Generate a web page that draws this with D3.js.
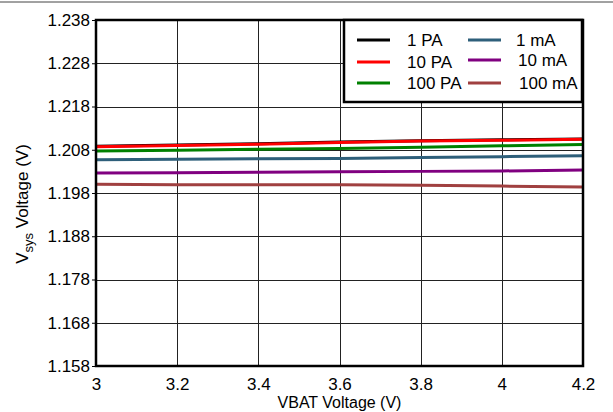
<!DOCTYPE html>
<html><head><meta charset="utf-8">
<script src="https://cdn.jsdelivr.net/npm/d3@7"></script>
<style>body{margin:0;background:#fff;}svg{display:block;font-family:"Liberation Sans",Arial,sans-serif;}</style>
</head><body>
<svg id="c" width="613" height="412"></svg>
<script>
const xValues = [3, 3.2, 3.4, 3.6, 3.8, 4, 4.2];
const xTicks = [3, 3.2, 3.4, 3.6, 3.8, 4, 4.2];
const yTicks = [1.158, 1.168, 1.178, 1.188, 1.198, 1.208, 1.218, 1.228, 1.238];
const seriesNames = ["1 PA", "10 PA", "100 PA", "1 mA", "10 mA", "100 mA"];
const seriesColors = ["#000000", "#ff0000", "#008000", "#2e5f7a", "#800080", "#a04040"];
const s1PA   = [1.2088, 1.2091, 1.2094, 1.2098, 1.2101, 1.2103, 1.2105];
const s10PA  = [1.2087, 1.2090, 1.2093, 1.2097, 1.2100, 1.2102, 1.2104];
const s100PA = [1.2077, 1.2079, 1.2081, 1.2083, 1.2086, 1.2089, 1.2092];
const s1mA   = [1.2057, 1.2058, 1.2059, 1.2060, 1.2062, 1.2064, 1.2066];
const s10mA  = [1.2026, 1.2027, 1.2028, 1.2029, 1.2030, 1.2031, 1.2033];
const s100mA = [1.2000, 1.1999, 1.1999, 1.1999, 1.1998, 1.1996, 1.1994];
const allSeries = [s1PA, s10PA, s100PA, s1mA, s10mA, s100mA];

const FS = 17;
const svg = d3.select("#c");
const W = 613, H = 412;
const m = {l: 96, r: 30, t: 20, b: 46};
const x = d3.scaleLinear().domain([3, 4.2]).range([m.l, W - m.r]);
const y = d3.scaleLinear().domain([1.158, 1.238]).range([H - m.b, m.t]);

// top rule
svg.append("line").attr("x1", 0).attr("x2", W).attr("y1", 2).attr("y2", 2)
  .attr("stroke", "#444").attr("stroke-width", 1);

// grid
svg.append("g").selectAll("line").data(xTicks.slice(1, -1)).join("line")
  .attr("x1", d => Math.round(x(d)) + 0.5).attr("x2", d => Math.round(x(d)) + 0.5)
  .attr("y1", y(1.238)).attr("y2", y(1.158)).attr("stroke", "#222").attr("stroke-width", 1);
svg.append("g").selectAll("line").data(yTicks.slice(1, -1)).join("line")
  .attr("y1", d => Math.round(y(d)) + 0.5).attr("y2", d => Math.round(y(d)) + 0.5)
  .attr("x1", x(3)).attr("x2", x(4.2)).attr("stroke", "#222").attr("stroke-width", 1);

// axes
const yAxis = d3.axisLeft(y).tickValues(yTicks).tickFormat(d3.format(".3f")).tickSize(4).tickPadding(2);
const gy = svg.append("g").attr("transform", `translate(${x(3)},0)`).call(yAxis);
gy.select(".domain").remove();
gy.selectAll("text").attr("font-size", FS).attr("fill", "#000").attr("font-family", "Liberation Sans, Arial, sans-serif");
gy.selectAll("line").attr("stroke", "#000");

const xAxis = d3.axisBottom(x).tickValues(xTicks).tickFormat(d => d3.format("")(d)).tickSize(0).tickPadding(12);
const gx = svg.append("g").attr("transform", `translate(0,${y(1.158)})`).call(xAxis);
gx.select(".domain").remove();
gx.selectAll("text").attr("font-size", FS).attr("fill", "#000").attr("font-family", "Liberation Sans, Arial, sans-serif");

// series lines
const line = d3.line().x((d, i) => x(xValues[i])).y(d => y(d));
const order = [5, 4, 3, 2, 0, 1];
svg.append("g").selectAll("path").data(order).join("path")
  .attr("d", k => line(allSeries[k])).attr("fill", "none")
  .attr("stroke", k => seriesColors[k]).attr("stroke-width", 3);

// border
svg.append("rect").attr("x", x(3)).attr("y", y(1.238)).attr("width", x(4.2) - x(3)).attr("height", y(1.158) - y(1.238))
  .attr("fill", "none").attr("stroke", "#000").attr("stroke-width", 2.5);

// legend
const lg = svg.append("g");
lg.append("rect").attr("x", 344).attr("y", 20).attr("width", 238).attr("height", 82)
  .attr("fill", "#fff").attr("stroke", "#000").attr("stroke-width", 2.5);
const legendPos = [
  {lx: 357, tx: 407, ty: 40}, {lx: 357, tx: 407, ty: 62}, {lx: 357, tx: 407, ty: 83},
  {lx: 468, tx: 516, ty: 40}, {lx: 468, tx: 518, ty: 60}, {lx: 468, tx: 519, ty: 83}
];
seriesNames.forEach((n, i) => {
  const p = legendPos[i];
  lg.append("line").attr("x1", p.lx).attr("x2", p.lx + 33).attr("y1", p.ty).attr("y2", p.ty)
    .attr("stroke", seriesColors[i]).attr("stroke-width", 3);
  lg.append("text").attr("x", p.tx).attr("y", p.ty + 6).attr("font-size", FS).text(n);
});

// axis titles
svg.append("text").attr("x", x(3.6)).attr("y", 408).attr("text-anchor", "middle").attr("font-size", 16)
  .text("VBAT Voltage (V)");
const yt = svg.append("text").attr("transform", `translate(28,${(y(1.158)+y(1.238))/2 + 11}) rotate(-90)`)
  .attr("text-anchor", "middle").attr("font-size", FS);
yt.append("tspan").text("V");
yt.append("tspan").attr("font-size", 13).attr("dy", 5).text("sys");
yt.append("tspan").attr("dy", -5).text(" Voltage  (V)");
</script>
</body></html>
